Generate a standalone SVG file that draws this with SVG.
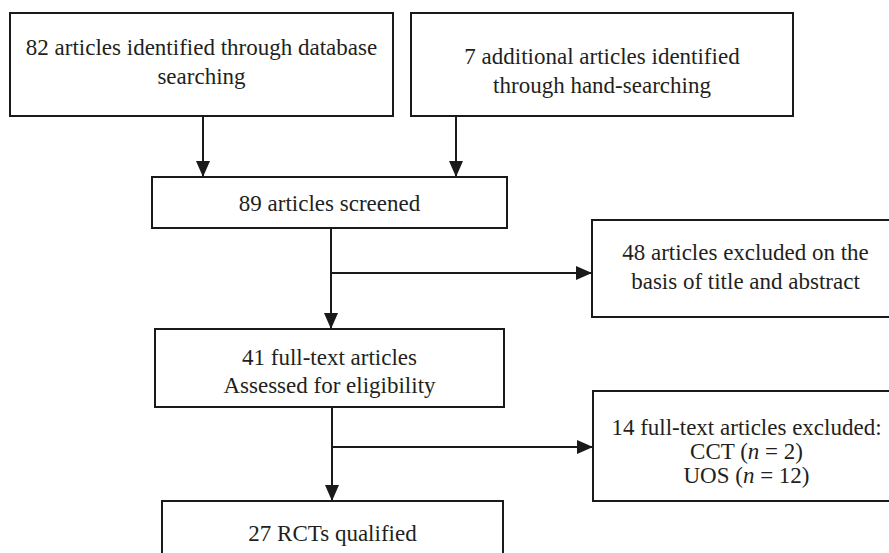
<svg xmlns="http://www.w3.org/2000/svg" width="889" height="553" viewBox="0 0 889 553">
<style>
.box{fill:#fff;stroke:#1a1a1a;stroke-width:2}
.t{font-family:"Liberation Serif","Times New Roman",serif;font-size:23px;fill:#231f20;text-anchor:middle}
.ln{fill:none;stroke:#1a1a1a;stroke-width:2}
</style>
<defs>
<marker id="ah" markerWidth="16" markerHeight="14" refX="16" refY="7" orient="auto" markerUnits="userSpaceOnUse">
<path d="M0,0 L16,7 L0,14 Z" fill="#1a1a1a"/>
</marker>
</defs>
<rect width="889" height="553" fill="#fff"/>
<g id="connectors">
<line class="ln" x1="203" y1="116" x2="203" y2="177" marker-end="url(#ah)"/>
<line class="ln" x1="456" y1="116" x2="456" y2="177" marker-end="url(#ah)"/>
<line class="ln" x1="331" y1="228" x2="331" y2="329" marker-end="url(#ah)"/>
<line class="ln" x1="331" y1="273" x2="592" y2="273" marker-end="url(#ah)"/>
<line class="ln" x1="332" y1="407" x2="332" y2="501" marker-end="url(#ah)"/>
<line class="ln" x1="332" y1="447" x2="593" y2="447" marker-end="url(#ah)"/>
</g>
<g id="n1"><rect class="box" x="10" y="13" width="383" height="103"/>
<text class="t" x="201.5" y="55">82 articles identified through database</text>
<text class="t" x="201.5" y="84">searching</text></g>
<g id="n2"><rect class="box" x="411" y="13" width="382" height="103"/>
<text class="t" x="602" y="64">7 additional articles identified</text>
<text class="t" x="602" y="93">through hand-searching</text></g>
<g id="n3"><rect class="box" x="152" y="177" width="355" height="51"/>
<text class="t" x="329.5" y="211">89 articles screened</text></g>
<g id="n4"><rect class="box" x="592" y="220" width="310" height="97"/>
<text class="t" x="745.5" y="260">48 articles excluded on the</text>
<text class="t" x="745.5" y="289">basis of title and abstract</text></g>
<g id="n5"><rect class="box" x="155" y="329" width="349" height="78"/>
<text class="t" x="329.5" y="365">41 full-text articles</text>
<text class="t" x="329.5" y="393">Assessed for eligibility</text></g>
<g id="n6"><rect class="box" x="593" y="391" width="310" height="110"/>
<text class="t" x="746.5" y="435">14 full-text articles excluded:</text>
<text class="t" x="746.5" y="459">CCT (<tspan font-style="italic">n</tspan> = 2)</text>
<text class="t" x="746.5" y="483">UOS (<tspan font-style="italic">n</tspan> = 12)</text></g>
<g id="n7"><rect class="box" x="162" y="501" width="341" height="70"/>
<text class="t" x="332.5" y="541">27 RCTs qualified</text></g>
</svg>
